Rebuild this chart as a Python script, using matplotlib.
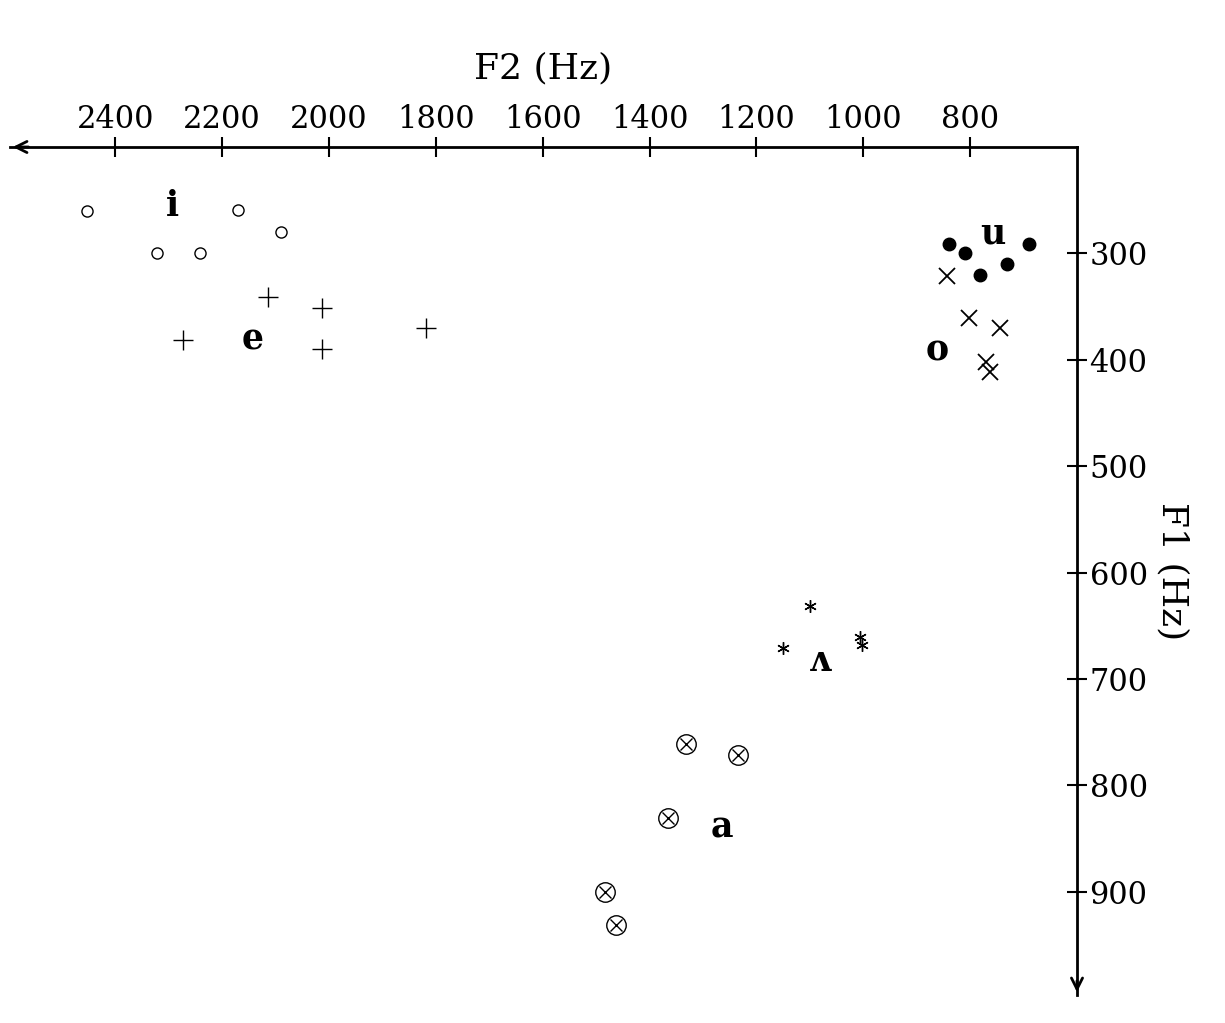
import matplotlib.pyplot as plt

plt.rcParams["mathtext.fontset"] = "cm"
plt.rcParams["font.family"] = "serif"
plt.rcParams["font.serif"] = ["DejaVu Serif"]

# vowel formant data (F2, F1) in Hz
i_f2 = [2452, 2322, 2242, 2171, 2090]
i_f1 = [260, 300, 300, 259, 280]
e_f2 = [2274, 2115, 2013, 2013, 1819]
e_f1 = [381, 341, 351, 390, 370]
u_f2 = [839, 809, 781, 731, 690]
u_f1 = [291, 300, 320, 310, 291]
o_f2 = [843, 802, 744, 771, 763]
o_f1 = [321, 361, 370, 402, 411]
v_f2 = [1100, 1150, 1006, 1002]
v_f1 = [631, 671, 661, 668]
a_f2 = [1332, 1234, 1366, 1483, 1463]
a_f1 = [761, 771, 831, 900, 931]

labels = ["i", "e", "u", "o", "\u028c", "a"]
label_f2 = [2293, 2143, 757, 862, 1081, 1264]
label_f1 = [255, 381, 281, 391, 683, 840]

fig = plt.figure(figsize=(12.25, 10.23), dpi=100)
ax = fig.add_axes([10 / 1225, 1 - 995 / 1023, 1067 / 1225, 848 / 1023])
ax.set_xlim(2597, 600)
ax.set_ylim(997, 200)

ax.plot(i_f2, i_f1, "o", mfc="none", mec="black", ms=8, mew=1)
ax.plot(e_f2, e_f1, "+", color="black", ms=14, mew=1)
ax.plot(u_f2, u_f1, "o", color="black", ms=9)
ax.plot(o_f2, o_f1, "x", color="black", ms=12, mew=1.3)
ax.plot(v_f2, v_f1, linestyle="none", marker=(6, 2, 0), color="black", ms=9, mew=1)
ax.plot(a_f2, a_f1, "o", mfc="none", mec="black", ms=14, mew=1)
ax.plot(a_f2, a_f1, "x", color="black", ms=9, mew=1)

for lab, x, y in zip(labels, label_f2, label_f1):
    ax.text(x, y, lab, fontsize=25, fontweight="bold", ha="center", va="center")

for s in ["bottom", "left"]:
    ax.spines[s].set_visible(False)
for s in ["top", "right"]:
    ax.spines[s].set_linewidth(2)
ax.xaxis.tick_top()
ax.yaxis.tick_right()
ax.xaxis.set_label_position("top")
ax.yaxis.set_label_position("right")
ax.set_xticks([2400, 2200, 2000, 1800, 1600, 1400, 1200, 1000, 800])
ax.set_yticks([300, 400, 500, 600, 700, 800, 900])
ax.tick_params(direction="inout", length=14, width=1.5, labelsize=22, pad=2)
ax.set_xlabel("F2 (Hz)", fontsize=26, labelpad=18)
ax.set_ylabel("F1 (Hz)", fontsize=26, rotation=270, labelpad=30)

# arrowheads
ax.annotate("", xy=(0, 1), xycoords="axes fraction", xytext=(0.02, 1),
            arrowprops=dict(arrowstyle="->", lw=2, mutation_scale=20))
ax.annotate("", xy=(1, 0), xycoords="axes fraction", xytext=(1, 0.02),
            arrowprops=dict(arrowstyle="->", lw=2, mutation_scale=20))

fig.savefig("out.png")
